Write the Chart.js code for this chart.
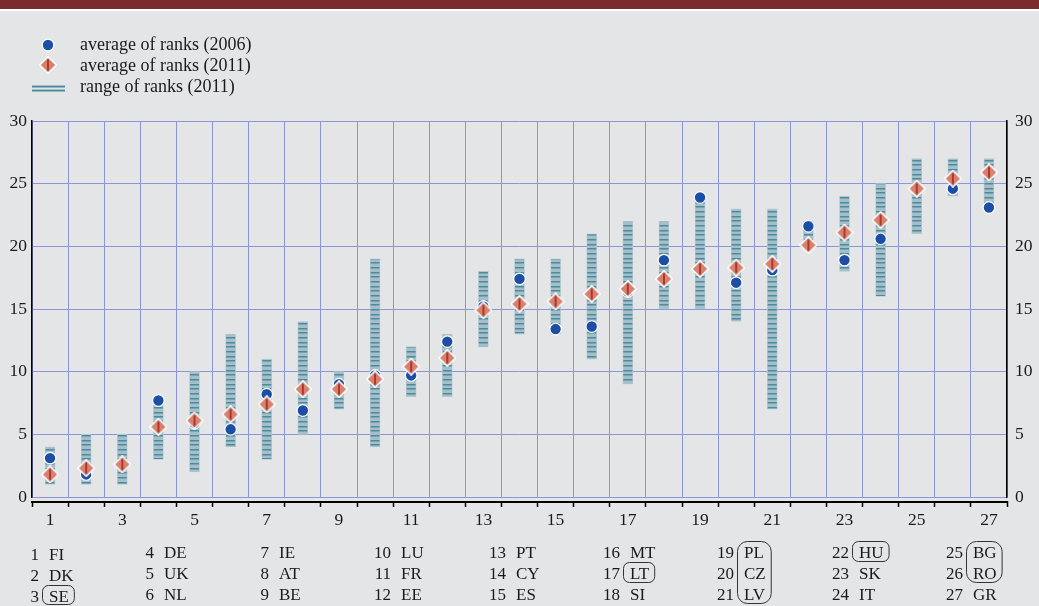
<!DOCTYPE html>
<html>
<head>
<meta charset="utf-8">
<script src="https://cdn.jsdelivr.net/npm/chart.js@4"></script>
<style>
  html, body { margin: 0; padding: 0; background: #e4e5e7; }
</style>
</head>
<body>
<canvas id="ranks" width="1039" height="606"></canvas>
<script>
// position in the ranking (x axis)
const positions = ['1','2','3','4','5','6','7','8','9','10','11','12','13','14',
  '15','16','17','18','19','20','21','22','23','24','25','26','27']
const countries = ['FI','DK','SE','DE','UK','NL','IE','AT','BE','LU','FR','EE','PT','CY',
  'ES','MT','LT','SI','PL','CZ','LV','HU','SK','IT','BG','RO','GR']

const avg2006 = [3.1, 1.8, 2.6, 7.7, 5.9, 5.4, 8.2, 6.9, 9.0, 9.7, 9.7, 12.4, 15.2, 17.4,
  13.4, 13.6, 16.4, 18.9, 23.9, 17.1, 18.1, 21.6, 18.9, 20.6, 24.6, 24.6, 23.1]
const avg2011 = [1.8, 2.3, 2.6, 5.6, 6.1, 6.6, 7.4, 8.6, 8.6, 9.4, 10.4, 11.1, 14.9, 15.4,
  15.6, 16.2, 16.6, 17.4, 18.2, 18.3, 18.6, 20.1, 21.1, 22.1, 24.6, 25.4, 25.9]
const rangeLow  = [1, 1, 1, 3, 2, 4, 3, 5, 7, 4, 8, 8, 12, 13, 13, 11, 9, 15, 15, 14, 7, 20, 18, 16, 21, 24, 23]
const rangeHigh = [4, 5, 5, 8, 10, 13, 11, 14, 10, 19, 12, 13, 18, 19, 19, 21, 22, 22, 24, 23, 23, 22, 24, 25, 27, 27, 27]
const yTicks = [0, 5, 10, 15, 20, 25, 30]

// groups of positions circled in the key below the chart
const circled = [[3, 3], [17, 17], [19, 21], [22, 22], [25, 26]]

const serif = '"Liberation Serif", "Times New Roman", serif'
const ink = '#1a1a1a'
const gridBlue = '#8c96d6'

const canvas = document.getElementById('ranks')
const ctx = canvas.getContext('2d')

// striped fill for the range bars
function stripes() {
  const c = document.createElement('canvas')
  c.width = 4; c.height = 14
  const g = c.getContext('2d')
  g.fillStyle = '#a5bec8'
  g.fillRect(0, 0, 4, 14)
  g.fillStyle = '#4a8b9f'
  ;[1, 6, 10].forEach(y => g.fillRect(0, y, 4, 1.5))
  return ctx.createPattern(c, 'repeat')
}

// salmon diamond with a dark vertical stroke
function diamondMark() {
  const c = document.createElement('canvas')
  c.width = 18; c.height = 18
  const g = c.getContext('2d')
  g.beginPath()
  g.moveTo(9, 0.8); g.lineTo(17.2, 9); g.lineTo(9, 17.2); g.lineTo(0.8, 9); g.closePath()
  g.fillStyle = '#d7806d'
  g.fill()
  g.lineWidth = 1.5
  g.strokeStyle = '#ffffff'
  g.stroke()
  g.fillStyle = '#a3281f'
  g.fillRect(8.2, 3.5, 1.6, 11)
  return c
}

const diamond = diamondMark()
const barFill = stripes()

const decor = {
  id: 'decor',
  beforeDraw(chart) {
    const c = chart.ctx
    c.save()
    c.fillStyle = '#e4e5e7'
    c.fillRect(0, 0, chart.width, chart.height)
    c.fillStyle = '#7b2a2d'
    c.fillRect(0, 0, chart.width, 9)
    c.fillStyle = '#ffffff'
    c.fillRect(0, 9, chart.width, 2)
    c.restore()
  },
  afterDraw(chart) {
    const c = chart.ctx
    const area = chart.chartArea
    c.save()
    // x axis line, a little below the plot
    c.fillStyle = '#000'
    c.fillRect(area.left - 1, area.bottom + 4, area.right - area.left + 2, 2)

    // legend
    c.font = '18px ' + serif
    c.textBaseline = 'middle'
    c.textAlign = 'left'
    c.beginPath()
    c.arc(48, 45, 5.8, 0, Math.PI * 2)
    c.fillStyle = '#1d4ea6'
    c.fill()
    c.lineWidth = 1.2
    c.strokeStyle = '#fff'
    c.stroke()
    c.drawImage(diamond, 48 - 9, 65 - 9)
    c.fillStyle = '#a5bec8'
    c.fillRect(32, 85, 33, 3)
    c.fillRect(32, 89, 33, 3)
    c.fillStyle = '#4a8b9f'
    c.fillRect(32, 86, 33, 1.2)
    c.fillRect(32, 90, 33, 1.2)
    c.fillStyle = ink
    c.fillText('average of ranks (2006)', 80, 45)
    c.fillText('average of ranks (2011)', 80, 66)
    c.fillText('range of ranks (2011)', 80, 87)

    // key of countries
    const colRight = [39, 154, 269, 391, 506, 620, 734, 849, 963]
    const rowBase = [558, 579, 600]
    c.font = '17px ' + serif
    c.textBaseline = 'alphabetic'
    countries.forEach((code, i) => {
      const col = Math.floor(i / 3), row = i % 3
      const dy = col === 0 ? 2 : 0
      c.textAlign = 'right'
      c.fillText(positions[i], colRight[col], rowBase[row] + dy)
      c.textAlign = 'left'
      c.fillText(code, colRight[col] + 10, rowBase[row] + dy)
    })
    c.strokeStyle = '#333'
    c.lineWidth = 1
    circled.forEach(([a, b]) => {
      const col = Math.floor((a - 1) / 3)
      const r0 = (a - 1) % 3, r1 = (b - 1) % 3
      let w = 0
      for (let k = a; k <= b; k++) w = Math.max(w, c.measureText(countries[k - 1]).width)
      const x0 = colRight[col] + 3
      const x1 = colRight[col] + 10 + w + 5
      const y0 = 541.5 + r0 * 21 + (col === 0 ? 2 : 0)
      const y1 = 541.5 + (r1 + 1) * 21 - 1 + (col === 0 ? 1 : 0)
      c.beginPath()
      c.roundRect(x0 + 0.5, y0, x1 - x0, y1 - y0, b > a ? 10 : 6)
      c.stroke()
    })
    c.restore()
  }
}

new Chart(ctx, {
  type: 'bar',
  data: {
    labels: positions,
    datasets: [{
      type: 'line',
      label: 'average of ranks (2011)',
      data: avg2011,
      showLine: false,
      pointStyle: diamond,
      pointRadius: 8,
      order: 1
    }, {
      type: 'line',
      label: 'average of ranks (2006)',
      data: avg2006,
      showLine: false,
      pointStyle: 'circle',
      pointRadius: 5.8,
      pointBackgroundColor: '#1d4ea6',
      pointBorderColor: '#ffffff',
      pointBorderWidth: 1.2,
      order: 2
    }, {
      label: 'range of ranks (2011)',
      data: rangeLow.map((lo, i) => [lo, rangeHigh[i]]),
      backgroundColor: barFill,
      borderColor: '#b5cad2',
      borderWidth: 0.8,
      borderSkipped: false,
      barThickness: 10,
      order: 3
    }]
  },
  options: {
    responsive: false,
    animation: false,
    devicePixelRatio: 1,
    layout: { padding: { top: 121, left: 0, right: 0, bottom: 0 } },
    plugins: {
      legend: { display: false },
      tooltip: { enabled: false }
    },
    scales: {
      x: {
        offset: true,
        grid: {
          offset: true, color: gridBlue, lineWidth: 1,
          tickColor: '#000', tickLength: 10, tickWidth: 1.5,
          tickBorderDash: [0, 4, 6, 40]
        },
        border: { display: false },
        ticks: {
          autoSkip: false,
          maxRotation: 0,
          padding: 3,
          color: ink,
          font: { family: serif, size: 17.5 },
          callback: function (v, i) { return i % 2 === 0 ? this.getLabelForValue(v) : '' }
        },
        afterFit: s => { s.height = 109 }
      },
      y: {
        min: 0, max: 30,
        grid: { color: gridBlue, drawTicks: false, lineWidth: 1 },
        border: { color: '#000', width: 1.5 },
        ticks: {
          stepSize: 5, padding: 5, color: ink,
          font: { family: serif, size: 17.5 },
          callback: v => yTicks.includes(v) ? v : ''
        },
        afterFit: s => { s.width = 32 }
      },
      y2: {
        position: 'right',
        min: 0, max: 30,
        grid: { drawOnChartArea: false, drawTicks: false },
        border: { color: '#000', width: 1.5 },
        ticks: {
          stepSize: 5, padding: 8, color: ink,
          font: { family: serif, size: 17.5 },
          callback: v => yTicks.includes(v) ? v : ''
        },
        afterFit: s => { s.width = 32 }
      }
    }
  },
  plugins: [decor]
})
</script>
</body>
</html>
